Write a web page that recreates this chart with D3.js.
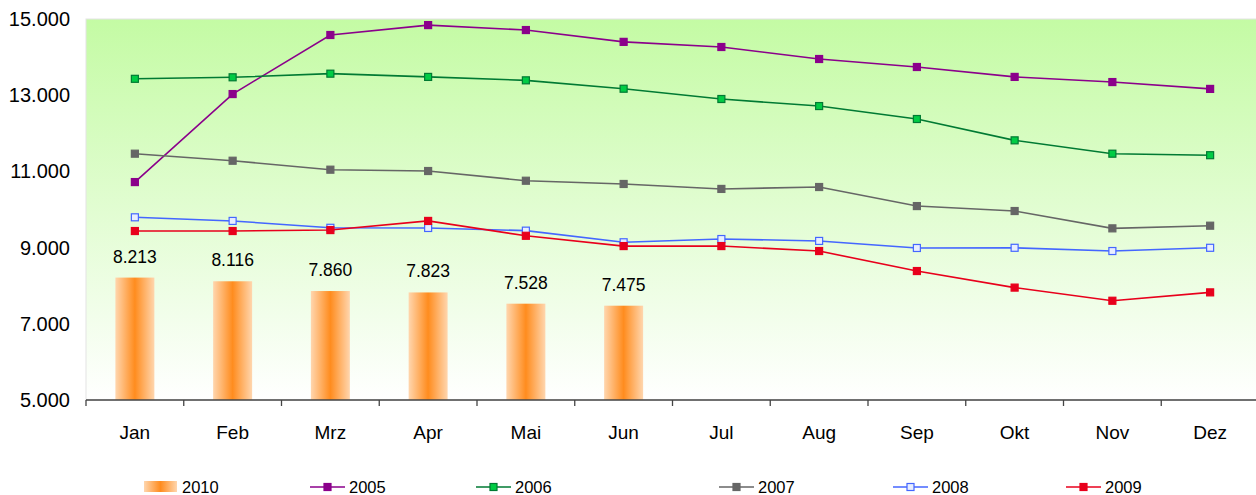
<!DOCTYPE html>
<html><head><meta charset="utf-8">
<script src="https://cdn.jsdelivr.net/npm/d3@7"></script>
<style>body{margin:0;background:#fff;}svg{display:block;font-family:"Liberation Sans",Arial,sans-serif;}</style>
</head><body><svg id="c" width="1256" height="495"></svg>
<script>
const months = ["Jan","Feb","Mrz","Apr","Mai","Jun","Jul","Aug","Sep","Okt","Nov","Dez"];
const bars2010 = [8213, 8116, 7860, 7823, 7528, 7475];
const s2005 = [10720, 13030, 14580, 14840, 14710, 14400, 14265, 13950, 13740, 13480, 13345, 13165];
const s2006 = [13430, 13470, 13565, 13480, 13390, 13170, 12900, 12715, 12375, 11815, 11465, 11425];
const s2007 = [11465, 11280, 11045, 11010, 10755, 10670, 10540, 10590, 10090, 9960, 9505, 9575];
const s2008 = [9795, 9700, 9520, 9515, 9445, 9140, 9225, 9175, 8990, 8995, 8910, 8995];
const s2009 = [9435, 9435, 9460, 9700, 9310, 9040, 9040, 8910, 8385, 7950, 7605, 7825];
const yTicks = [5000, 7000, 9000, 11000, 13000, 15000];

const series = [
  {name:"2005", data:s2005, color:"#8b008b", fill:"#8b008b"},
  {name:"2006", data:s2006, color:"#007a33", fill:"#00cc44"},
  {name:"2007", data:s2007, color:"#666666", fill:"#666666"},
  {name:"2008", data:s2008, color:"#4466ff", fill:"#e8eeff"},
  {name:"2009", data:s2009, color:"#e8001c", fill:"#e8001c"}
];

const svg = d3.select("#c");
const L = 86, R = 1259, T = 19, B = 400;
const x = d3.scaleBand().domain(months).range([L, R]);
const y = d3.scaleLinear().domain([5000, 15000]).range([B, T]);
const fmt = v => d3.format(",.0f")(v).replace(/,/g, ".");

const defs = svg.append("defs");
const bg = defs.append("linearGradient").attr("id","bg").attr("x1",0).attr("y1",0).attr("x2",0).attr("y2",1);
bg.append("stop").attr("offset","0%").attr("stop-color","#c4fba4");
bg.append("stop").attr("offset","100%").attr("stop-color","#ffffff");
const bar = defs.append("linearGradient").attr("id","bar").attr("x1",0).attr("y1",0).attr("x2",1).attr("y2",0);
bar.append("stop").attr("offset","0%").attr("stop-color","#ffd6ae");
bar.append("stop").attr("offset","50%").attr("stop-color","#ff8c1e");
bar.append("stop").attr("offset","100%").attr("stop-color","#ffd6ae");

svg.append("rect").attr("x",L).attr("y",T).attr("width",R-L).attr("height",B-T)
  .attr("fill","url(#bg)").attr("stroke","#e4e4e4").attr("stroke-width",1);

// bars
const bw = 39;
svg.selectAll("rect.bar").data(bars2010).enter().append("rect").attr("class","bar")
  .attr("x",(d,i)=>x(months[i]) + x.bandwidth()/2 - bw/2)
  .attr("y",d=>y(d)).attr("width",bw).attr("height",d=>B-y(d))
  .attr("fill","url(#bar)");
svg.selectAll("text.bl").data(bars2010).enter().append("text").attr("class","bl")
  .attr("x",(d,i)=>x(months[i]) + x.bandwidth()/2)
  .attr("y",d=>y(d)-15).attr("text-anchor","middle")
  .attr("font-size",17.5).attr("fill","#000").text(d=>fmt(d));

// lines
const line = d3.line().x((d,i)=>x(months[i]) + x.bandwidth()/2).y(d=>y(d));
series.forEach(s=>{
  svg.append("path").datum(s.data).attr("d",line).attr("fill","none")
    .attr("stroke",s.color).attr("stroke-width",1.6);
  svg.selectAll(null).data(s.data).enter().append("rect")
    .attr("x",(d,i)=>x(months[i]) + x.bandwidth()/2 - 3.5)
    .attr("y",d=>y(d)-3.5).attr("width",7).attr("height",7)
    .attr("fill",s.fill).attr("stroke",s.color).attr("stroke-width",1.2);
});

// x axis
svg.append("line").attr("x1",L).attr("x2",R).attr("y1",B).attr("y2",B).attr("stroke","#444").attr("stroke-width",1.3);
const tickPos = months.map(m=>x(m)).concat([R]);
svg.selectAll("line.tk").data(tickPos).enter().append("line")
  .attr("x1",d=>d).attr("x2",d=>d).attr("y1",B).attr("y2",B+6).attr("stroke","#444").attr("stroke-width",1.3);
svg.selectAll("text.xl").data(months).enter().append("text")
  .attr("x",d=>x(d)+x.bandwidth()/2).attr("y",B+39).attr("text-anchor","middle")
  .attr("font-size",19).attr("fill","#000").text(d=>d);

// y axis labels
const ya = svg.append("g").attr("transform",`translate(${L},0)`)
  .call(d3.axisLeft(y).tickValues(yTicks).tickSize(0).tickPadding(16).tickFormat(fmt));
ya.select(".domain").remove();
ya.selectAll("text").attr("font-size",20).attr("fill","#000")
  .attr("font-family","'Liberation Sans',Arial,sans-serif");

// legend
const ly = 487;
const lg = svg.append("g");
lg.append("rect").attr("x",144).attr("y",ly-6).attr("width",33).attr("height",11).attr("fill","url(#bar)");
lg.append("text").attr("x",182).attr("y",ly+6).attr("font-size",16.5).text("2010");
const legX = [310, 476, 719, 893, 1066];
series.forEach((s,i)=>{
  const lx = legX[i];
  lg.append("line").attr("x1",lx).attr("x2",lx+35).attr("y1",ly).attr("y2",ly).attr("stroke",s.color).attr("stroke-width",1.6);
  lg.append("rect").attr("x",lx+17.5-3.5).attr("y",ly-3.5).attr("width",7).attr("height",7)
    .attr("fill",s.fill).attr("stroke",s.color).attr("stroke-width",1.2);
  lg.append("text").attr("x",lx+39).attr("y",ly+6).attr("font-size",16.5).text(s.name);
});
</script></body></html>
